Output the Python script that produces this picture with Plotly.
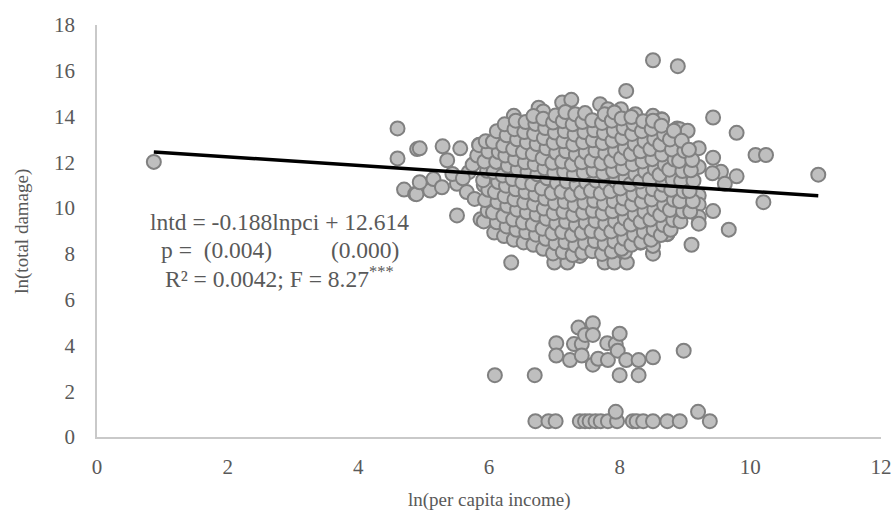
import plotly.graph_objects as go

# ---- data (ln per capita income, ln total damage) ----
# left sparse tail and isolated points
tail_pts = [
    (0.87, 12.02), (4.60, 13.48), (4.60, 12.17), (4.70, 10.81), (4.90, 12.58), (4.87, 10.62),
    (4.94, 12.61), (5.29, 12.70), (5.56, 12.61), (5.36, 12.09), (5.85, 12.77), (6.06, 12.73),
    (6.20, 13.38), (4.89, 10.61), (5.10, 10.77), (4.94, 11.13), (5.15, 11.27), (5.28, 10.91),
    (5.51, 11.06), (5.66, 10.70), (5.51, 9.68), (5.87, 9.51), (5.92, 11.01), (5.69, 11.57),
    (5.44, 11.49), (5.75, 11.90), (5.82, 12.30), (5.60, 11.30), (5.78, 10.40), (5.85, 12.75),
]

# upper outliers
top_pts = [
    (8.51, 16.46), (8.89, 16.20), (8.10, 15.12), (7.12, 14.61), (7.26, 14.73), (6.76, 14.39),
    (6.83, 14.22), (6.38, 14.03), (6.71, 13.60), (7.70, 14.54), (7.82, 14.32), (8.02, 14.32),
    (7.40, 14.03), (8.24, 14.10), (8.51, 14.03), (8.64, 13.88), (7.94, 13.81), (8.88, 13.48),
]

# right-hand outliers
right_pts = [
    (9.43, 13.96), (9.79, 13.29), (10.08, 12.32), (10.24, 12.32), (11.04, 11.46), (10.20, 10.26),
    (9.67, 9.06), (9.10, 8.40), (8.73, 8.86), (9.43, 9.87), (9.79, 11.39), (9.55, 11.59),
    (9.61, 11.06), (9.43, 12.20), (9.21, 12.62), (8.92, 13.45), (9.04, 13.38), (8.65, 13.86),
    (8.73, 13.23), (9.21, 11.80), (9.21, 10.55), (9.21, 10.16), (9.21, 9.61), (9.21, 9.32),
    (8.77, 10.33), (8.99, 11.88), (9.42, 11.52), (8.92, 12.58),
]

# lower edge of the main cloud
bottom_pts = [
    (6.34, 7.62), (7.00, 7.62), (7.20, 7.62), (7.77, 7.62), (7.92, 7.62), (8.11, 7.62),
    (7.39, 7.91), (7.58, 8.30), (7.08, 8.30), (6.89, 8.52), (8.51, 8.01), (8.51, 8.35),
    (8.73, 8.88), (8.32, 8.49), (8.08, 8.09), (7.81, 8.30), (8.17, 8.70), (6.38, 8.96),
    (6.28, 9.25), (7.40, 8.52), (7.25, 8.74), (7.85, 8.88),
]

# dense core of the cloud
core_pts = [
    (5.92, 9.42), (5.98, 9.88), (5.94, 10.35), (5.99, 10.80), (5.91, 11.22), (5.97, 11.63), (5.93, 12.04), (5.99, 12.47), (5.95, 12.92),
    (6.08, 8.93), (6.12, 9.38), (6.06, 9.81), (6.13, 10.27), (6.09, 10.70), (6.14, 11.14), (6.07, 11.58), (6.11, 12.02), (6.15, 12.45), (6.06, 12.90), (6.12, 13.36),
    (6.23, 8.78), (6.27, 9.20), (6.22, 9.66), (6.28, 10.10), (6.24, 10.52), (6.26, 10.98), (6.21, 11.42), (6.29, 11.85), (6.25, 12.30), (6.22, 12.73), (6.27, 13.18), (6.24, 13.66),
    (6.38, 8.62), (6.42, 9.05), (6.37, 9.50), (6.43, 9.93), (6.39, 10.38), (6.41, 10.82), (6.36, 11.27), (6.44, 11.70), (6.40, 12.14), (6.37, 12.58), (6.43, 13.01), (6.39, 13.45), (6.41, 13.82),
    (6.53, 8.50), (6.57, 8.95), (6.52, 9.37), (6.58, 9.82), (6.54, 10.25), (6.56, 10.70), (6.51, 11.13), (6.59, 11.58), (6.55, 12.00), (6.52, 12.45), (6.58, 12.88), (6.54, 13.32), (6.56, 13.76),
    (6.68, 8.40), (6.72, 8.84), (6.67, 9.28), (6.73, 9.72), (6.69, 10.16), (6.71, 10.60), (6.66, 11.04), (6.74, 11.48), (6.70, 11.92), (6.67, 12.36), (6.73, 12.80), (6.69, 13.24), (6.71, 13.68), (6.68, 14.02),
    (6.83, 8.22), (6.87, 8.66), (6.82, 9.10), (6.88, 9.54), (6.84, 9.98), (6.86, 10.42), (6.81, 10.86), (6.89, 11.30), (6.85, 11.74), (6.82, 12.18), (6.88, 12.62), (6.84, 13.06), (6.86, 13.50), (6.83, 13.90),
    (6.98, 8.02), (7.02, 8.46), (6.97, 8.90), (7.03, 9.34), (6.99, 9.78), (7.01, 10.22), (6.96, 10.66), (7.04, 11.10), (7.00, 11.54), (6.97, 11.98), (7.03, 12.42), (6.99, 12.86), (7.01, 13.30), (6.98, 13.74), (7.02, 14.05),
    (7.13, 8.08), (7.17, 8.52), (7.12, 8.96), (7.18, 9.40), (7.14, 9.84), (7.16, 10.28), (7.11, 10.72), (7.19, 11.16), (7.15, 11.60), (7.12, 12.04), (7.18, 12.48), (7.14, 12.92), (7.16, 13.36), (7.13, 13.80), (7.17, 14.20),
    (7.28, 7.95), (7.32, 8.38), (7.27, 8.82), (7.33, 9.26), (7.29, 9.70), (7.31, 10.14), (7.26, 10.58), (7.34, 11.02), (7.30, 11.46), (7.27, 11.90), (7.33, 12.34), (7.29, 12.78), (7.31, 13.22), (7.28, 13.66), (7.32, 14.10),
    (7.43, 8.05), (7.47, 8.48), (7.42, 8.92), (7.48, 9.36), (7.44, 9.80), (7.46, 10.24), (7.41, 10.68), (7.49, 11.12), (7.45, 11.56), (7.42, 12.00), (7.48, 12.44), (7.44, 12.88), (7.46, 13.32), (7.43, 13.76), (7.47, 14.15),
    (7.58, 8.12), (7.62, 8.56), (7.57, 9.00), (7.63, 9.44), (7.59, 9.88), (7.61, 10.32), (7.56, 10.76), (7.64, 11.20), (7.60, 11.64), (7.57, 12.08), (7.63, 12.52), (7.59, 12.96), (7.61, 13.40), (7.58, 13.84),
    (7.73, 8.00), (7.77, 8.44), (7.72, 8.88), (7.78, 9.32), (7.74, 9.76), (7.76, 10.20), (7.71, 10.64), (7.79, 11.08), (7.75, 11.52), (7.72, 11.96), (7.78, 12.40), (7.74, 12.84), (7.76, 13.28), (7.73, 13.72), (7.77, 14.10),
    (7.88, 8.10), (7.92, 8.54), (7.87, 8.98), (7.93, 9.42), (7.89, 9.86), (7.91, 10.30), (7.86, 10.74), (7.94, 11.18), (7.90, 11.62), (7.87, 12.06), (7.93, 12.50), (7.89, 12.94), (7.91, 13.38), (7.88, 13.82), (7.92, 14.18),
    (8.03, 8.22), (8.07, 8.66), (8.02, 9.10), (8.08, 9.54), (8.04, 9.98), (8.06, 10.42), (8.01, 10.86), (8.09, 11.30), (8.05, 11.74), (8.02, 12.18), (8.08, 12.62), (8.04, 13.06), (8.06, 13.50), (8.03, 13.92),
    (8.18, 8.40), (8.22, 8.84), (8.17, 9.28), (8.23, 9.72), (8.19, 10.16), (8.21, 10.60), (8.16, 11.04), (8.24, 11.48), (8.20, 11.92), (8.17, 12.36), (8.23, 12.80), (8.19, 13.24), (8.21, 13.68), (8.18, 13.98),
    (8.33, 8.52), (8.37, 8.96), (8.32, 9.40), (8.38, 9.84), (8.34, 10.28), (8.36, 10.72), (8.31, 11.16), (8.39, 11.60), (8.35, 12.04), (8.32, 12.48), (8.38, 12.92), (8.34, 13.36), (8.36, 13.80),
    (8.48, 8.62), (8.52, 9.06), (8.47, 9.50), (8.53, 9.94), (8.49, 10.38), (8.51, 10.82), (8.46, 11.26), (8.54, 11.70), (8.50, 12.14), (8.47, 12.58), (8.53, 13.02), (8.49, 13.46), (8.51, 13.82),
    (8.63, 8.82), (8.67, 9.26), (8.62, 9.70), (8.68, 10.14), (8.64, 10.58), (8.66, 11.02), (8.61, 11.46), (8.69, 11.90), (8.65, 12.34), (8.62, 12.78), (8.68, 13.22), (8.64, 13.60),
    (8.78, 9.05), (8.82, 9.48), (8.77, 9.92), (8.83, 10.36), (8.79, 10.80), (8.81, 11.24), (8.76, 11.68), (8.84, 12.12), (8.80, 12.56), (8.77, 13.00), (8.83, 13.38),
    (8.93, 9.42), (8.97, 9.86), (8.92, 10.30), (8.98, 10.74), (8.94, 11.18), (8.96, 11.62), (8.91, 12.06), (8.99, 12.50), (8.95, 12.94),
    (9.08, 9.85), (9.12, 10.30), (9.07, 10.75), (9.13, 11.20), (9.09, 11.65), (9.11, 12.10), (9.06, 12.55),
]

# separate low-damage group
low_pts = [
    (6.09, 2.70), (6.70, 2.70), (7.03, 4.10), (7.03, 3.56), (7.24, 3.36), (7.30, 4.06), (7.37, 4.78),
    (7.42, 4.06), (7.42, 3.56), (7.47, 4.46), (7.59, 4.97), (7.59, 4.46), (7.59, 3.16), (7.67, 3.42),
    (7.81, 4.10), (7.82, 3.36), (7.94, 4.06), (7.97, 3.77), (8.00, 4.51), (8.00, 2.70), (8.10, 3.36),
    (8.29, 3.36), (8.29, 2.70), (8.51, 3.48), (8.98, 3.77),
    (6.71, 0.69), (6.91, 0.69), (7.02, 0.69), (7.39, 0.69), (7.47, 0.69), (7.54, 0.69), (7.63, 0.69),
    (7.71, 0.69), (7.82, 0.69), (7.96, 0.69), (7.94, 1.10), (8.20, 0.69), (8.26, 0.69), (8.36, 0.69),
    (8.51, 0.69), (8.73, 0.69), (8.92, 0.69), (9.20, 1.10), (9.38, 0.69),
]

# regression
slope = -0.188
intercept = 12.614
eq_lines = [
    "lntd = -0.188lnpci + 12.614",
    "p =  (0.004)          (0.000)",
    "R² = 0.0042; F = 8.27<sup>***</sup>",
]

x_ticks = [0, 2, 4, 6, 8, 10, 12]
y_ticks = [0, 2, 4, 6, 8, 10, 12, 14, 16, 18]
x_title = "ln(per capita income)"
y_title = "ln(total damage)"

# ---- build figure ----
all_pts = tail_pts + top_pts + right_pts + bottom_pts + core_pts + low_pts
xs = [p[0] for p in all_pts]
ys = [p[1] for p in all_pts]

fig = go.Figure()
fig.add_trace(go.Scatter(
    x=xs, y=ys, mode="markers",
    marker=dict(size=14, color="#BFBFBF", line=dict(color="#808080", width=2)),
    showlegend=False, hoverinfo="skip",
))

x_min, x_max = min(xs), max(xs)
fig.add_trace(go.Scatter(
    x=[x_min, x_max], y=[slope * x_min + intercept, slope * x_max + intercept],
    mode="lines", line=dict(color="#000000", width=3.5),
    showlegend=False, hoverinfo="skip",
))

font_family = "Liberation Serif"
text_color = "#595959"

# regression equation, one annotation per line
eq_y = [0.521, 0.453, 0.388]
for line, yy in zip(eq_lines, eq_y):
    fig.add_annotation(
        xref="paper", yref="paper", x=0.2334, y=yy, xanchor="center", yanchor="middle",
        text=line.replace("  ", "\u00a0\u00a0"), showarrow=False,
        font=dict(family=font_family, size=23.5, color=text_color),
    )

# axis titles
fig.add_annotation(
    xref="paper", yref="paper", x=0.5, y=-0.154, xanchor="center", yanchor="middle",
    text=x_title, showarrow=False,
    font=dict(family=font_family, size=19, color=text_color),
)
fig.add_annotation(
    xref="paper", yref="paper", x=-0.096, y=0.5, xanchor="center", yanchor="middle",
    text=y_title, showarrow=False, textangle=-90,
    font=dict(family=font_family, size=19, color=text_color),
)

axis_common = dict(
    showgrid=False, zeroline=False, showline=True, linecolor="#C9C9C9", linewidth=1.5,
    ticks="outside", tickcolor="rgba(0,0,0,0)", automargin=False,
    tickfont=dict(family=font_family, size=21, color=text_color),
)

fig.update_xaxes(range=[0, 12], tickvals=x_ticks, ticklen=10, **axis_common)
fig.update_yaxes(range=[0, 18], tickvals=y_ticks, ticklen=16, **axis_common)

fig.update_layout(
    width=893, height=519,
    margin=dict(l=97, r=12, t=25, b=82),
    plot_bgcolor="white", paper_bgcolor="white",
)

# remove the default page margin so the figure fills the 893x519 window exactly
fig.write_html(
    "out.html",
    config={"displayModeBar": False},
    post_script="document.body.style.margin='0px';document.body.style.overflow='hidden';",
)
